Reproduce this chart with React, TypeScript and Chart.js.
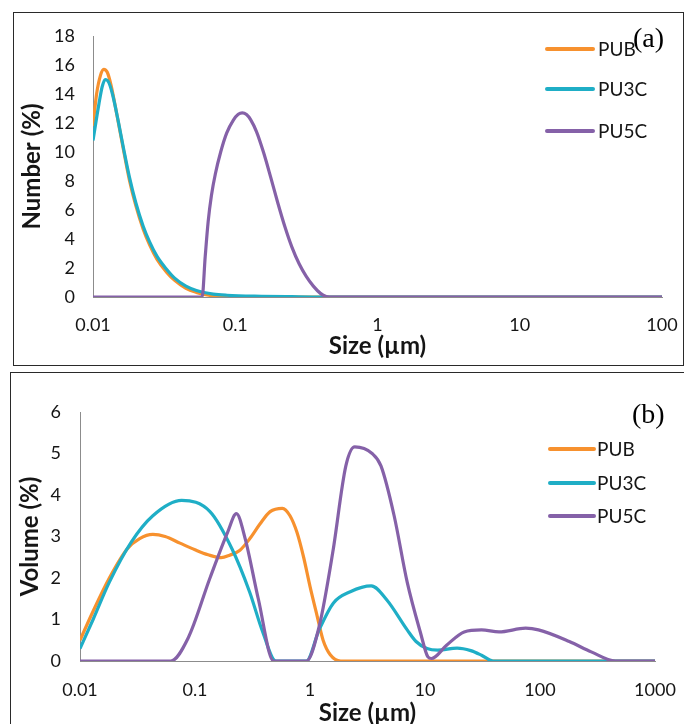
import React, { useEffect, useRef } from "react";
import { Chart, registerables } from "chart.js";

Chart.register(...registerables);

// ---------- Panel (a): Number (%) ----------
const numXTicks = [0.01, 0.1, 1, 10, 100];
const numXTickLabels = ["0.01", "0.1", "1", "10", "100"];

const numPUBSize = [0.01, 0.0106, 0.0113, 0.0119, 0.0126, 0.0134, 0.0147, 0.0162, 0.018, 0.02, 0.0225, 0.025, 0.0282, 0.033, 0.0375, 0.045, 0.0533, 0.065, 0.08, 0.09, 1, 10, 100];
const numPUBVal = [11.8, 14.0, 15.3, 15.7, 15.5, 14.6, 12.6, 10.4, 8.1, 6.3, 4.7, 3.6, 2.6, 1.7, 1.15, 0.6, 0.32, 0.12, 0.03, 0, 0, 0, 0];

const numPU3CSize = [0.01, 0.011, 0.0116, 0.0122, 0.0129, 0.0137, 0.015, 0.0165, 0.018, 0.02, 0.0225, 0.025, 0.0282, 0.033, 0.0375, 0.045, 0.0533, 0.07, 0.0875, 0.153, 0.25, 0.41, 1, 10, 100];
const numPU3CVal = [10.8, 13.3, 14.5, 15.0, 14.8, 14.0, 12.2, 10.1, 8.3, 6.5, 4.9, 3.8, 2.8, 1.9, 1.3, 0.75, 0.45, 0.2, 0.12, 0.05, 0.02, 0, 0, 0, 0];

const numPU5CSize = [0.01, 0.0585, 0.0615, 0.0645, 0.068, 0.0725, 0.079, 0.087, 0.097, 0.105, 0.112, 0.12, 0.1285, 0.141, 0.158, 0.1774, 0.199, 0.2234, 0.2506, 0.2812, 0.3155, 0.354, 0.397, 0.4355, 0.46, 1, 10, 100];
const numPU5CVal = [0, 0, 2.8, 5.2, 7.0, 8.5, 10.0, 11.3, 12.2, 12.6, 12.7, 12.58, 12.22, 11.41, 9.98, 8.27, 6.5, 4.84, 3.42, 2.29, 1.42, 0.75, 0.25, 0.03, 0, 0, 0, 0];

// ---------- Panel (b): Volume (%) ----------
const volXTicks = [0.01, 0.1, 1, 10, 100, 1000];
const volXTickLabels = ["0.01", "0.1", "1", "10", "100", "1000"];

const volPUBSize = [0.01, 0.013, 0.018, 0.0257, 0.033, 0.043, 0.055, 0.074, 0.1, 0.13, 0.169, 0.2, 0.246, 0.3, 0.367, 0.45, 0.575, 0.67, 0.77, 0.88, 1.0, 1.15, 1.3, 1.5, 1.85, 10, 100, 1000];
const volPUBVal = [0.5, 1.2, 2.0, 2.7, 2.95, 3.05, 3.0, 2.84, 2.68, 2.56, 2.49, 2.55, 2.67, 2.95, 3.3, 3.6, 3.68, 3.5, 3.1, 2.5, 1.8, 1.1, 0.5, 0.15, 0, 0, 0, 0];

const volPU3CSize = [0.01, 0.013, 0.018, 0.028, 0.043, 0.0766, 0.135, 0.21, 0.298, 0.388, 0.505, 0.93, 1.2, 1.6, 2.24, 3.41, 4.66, 7.0, 8.36, 10.4, 12.9, 19, 25, 31, 39, 100, 1000];
const volPU3CVal = [0.3, 1.0, 1.9, 2.87, 3.5, 3.87, 3.6, 2.7, 1.67, 0.7, 0, 0, 0.75, 1.4, 1.67, 1.81, 1.47, 0.75, 0.47, 0.3, 0.26, 0.31, 0.25, 0.14, 0, 0, 0];

const volPU5CSize = [0.01, 0.0615, 0.087, 0.135, 0.192, 0.229, 0.273, 0.355, 0.483, 0.93, 1.21, 1.58, 2.05, 2.45, 3.47, 4.14, 5.39, 7.0, 9.1, 10.6, 11.4, 15.4, 21.9, 31, 44, 75, 97, 180, 279, 452, 1000];
const volPU5CVal = [0, 0, 0.55, 2.0, 3.1, 3.55, 2.95, 1.5, 0, 0, 0.87, 2.63, 4.7, 5.16, 5.0, 4.7, 3.5, 1.9, 0.7, 0.1, 0.06, 0.38, 0.7, 0.75, 0.7, 0.79, 0.75, 0.47, 0.22, 0, 0];

const seriesNames = ["PUB", "PU3C", "PU5C"];
const seriesColors = ["#F7912E", "#1FAEC6", "#8561A8"];

const pts = (xs: number[], ys: number[]) => xs.map((x, i) => ({ x, y: ys[i] }));

const TICK_FONT = { family: "Lato", size: 18 };
const TITLE_FONT = { family: "Lato", size: 24, weight: "bold" as const };
const TEXT_COLOR = "#151515";

type OverlayCfg = {
  lineX1: number;
  lineX2: number;
  textX: number;
  ys: number[];
  tag: string;
  tagX: number;
  tagY: number;
};

function makeOverlay(cfg: OverlayCfg) {
  return {
    id: "panelOverlay",
    afterDraw(chart: any) {
      const ctx = chart.ctx;
      ctx.save();
      chart.data.datasets.forEach((ds: any, i: number) => {
        const y = cfg.ys[i];
        ctx.strokeStyle = ds.borderColor;
        ctx.lineWidth = 4;
        ctx.lineCap = "round";
        ctx.beginPath();
        ctx.moveTo(cfg.lineX1, y);
        ctx.lineTo(cfg.lineX2, y);
        ctx.stroke();
        ctx.fillStyle = TEXT_COLOR;
        ctx.font = "19px Lato";
        ctx.textAlign = "left";
        ctx.textBaseline = "middle";
        ctx.fillText(ds.label, cfg.textX, y + 1);
      });
      ctx.fillStyle = "#000";
      ctx.font = "28px 'Liberation Serif'";
      ctx.textAlign = "left";
      ctx.textBaseline = "middle";
      ctx.fillText(cfg.tag, cfg.tagX, cfg.tagY);
      ctx.restore();
    },
  };
}

type PanelProps = {
  width: number;
  height: number;
  sizes: number[][];
  values: number[][];
  xTicks: number[];
  xTickLabels: string[];
  xMax: number;
  yMax: number;
  yStep: number;
  yTitle: string;
  pad: { left: number; top: number; right: number; bottom: number };
  yWidth: number;
  xHeight: number;
  yTickPad: number;
  xTickPad: number;
  yTitlePad: number;
  xTitlePad: number;
  overlay: OverlayCfg;
};

function Panel(p: PanelProps) {
  const ref = useRef<HTMLCanvasElement | null>(null);
  useEffect(() => {
    if (!ref.current) return;
    const chart = new Chart(ref.current, {
      type: "line",
      data: {
        datasets: seriesNames.map((name, i) => ({
          label: name,
          data: pts(p.sizes[i], p.values[i]),
          borderColor: seriesColors[i],
          backgroundColor: seriesColors[i],
          borderWidth: 3.2,
          pointRadius: 0,
          fill: false,
          cubicInterpolationMode: "monotone" as const,
          order: 3 - i,
        })),
      },
      options: {
        responsive: false,
        animation: false,
        events: [],
        layout: { padding: p.pad },
        plugins: {
          legend: { display: false },
          tooltip: { enabled: false },
          title: { display: false },
        },
        scales: {
          x: {
            type: "logarithmic",
            min: 0.01,
            max: p.xMax,
            grid: { display: false, drawTicks: false },
            border: { display: true, color: "#8c8c8c", width: 1 },
            afterBuildTicks: (axis: any) => {
              axis.ticks = p.xTicks.map((v) => ({ value: v }));
            },
            afterFit: (axis: any) => {
              axis.height = p.xHeight;
              axis.paddingLeft = 0;
              axis.paddingRight = 0;
            },
            ticks: {
              autoSkip: false,
              maxRotation: 0,
              padding: p.xTickPad,
              font: TICK_FONT,
              color: TEXT_COLOR,
              callback: (_v: any, i: number) => p.xTickLabels[i],
            },
            title: {
              display: true,
              text: "Size (µm)",
              font: TITLE_FONT,
              color: TEXT_COLOR,
              padding: { top: 0, bottom: p.xTitlePad },
            },
          },
          y: {
            type: "linear",
            min: 0,
            max: p.yMax,
            grid: { display: false, drawTicks: false },
            border: { display: true, color: "#8c8c8c", width: 1 },
            afterFit: (axis: any) => {
              axis.width = p.yWidth;
              axis.paddingTop = 0;
              axis.paddingBottom = 0;
            },
            ticks: {
              stepSize: p.yStep,
              padding: p.yTickPad,
              font: TICK_FONT,
              color: TEXT_COLOR,
            },
            title: {
              display: true,
              text: p.yTitle,
              font: TITLE_FONT,
              color: TEXT_COLOR,
              padding: { top: p.yTitlePad, bottom: 0 },
            },
          },
        },
      },
      plugins: [makeOverlay(p.overlay)],
    });
    return () => chart.destroy();
  }, []);
  return <canvas ref={ref} width={p.width} height={p.height} style={{ display: "block", width: p.width, height: p.height }} />;
}

export default function App() {
  return (
    <div style={{ position: "absolute", left: 0, top: 0, width: 684, height: 724, overflow: "hidden", background: "#fff" }}>
      <div style={{ position: "absolute", left: 13, top: 12, width: 671, height: 354, boxSizing: "border-box", border: "1px solid #2a2a2a" }} />
      <div style={{ position: "absolute", left: 10, top: 372, width: 700, height: 400, boxSizing: "border-box", border: "1px solid #2a2a2a" }} />
      <div style={{ position: "absolute", left: 0, top: 0 }}>
        <Panel
          width={684}
          height={370}
          sizes={[numPUBSize, numPU3CSize, numPU5CSize]}
          values={[numPUBVal, numPU3CVal, numPU5CVal]}
          xTicks={numXTicks}
          xTickLabels={numXTickLabels}
          xMax={100}
          yMax={18}
          yStep={2}
          yTitle="Number (%)"
          pad={{ left: 0, top: 36, right: 22, bottom: 0 }}
          yWidth={93}
          xHeight={73}
          yTickPad={18}
          xTickPad={17}
          yTitlePad={18}
          xTitlePad={9}
          overlay={{ lineX1: 547, lineX2: 593, textX: 598, ys: [49, 89, 131], tag: "(a)", tagX: 633, tagY: 40 }}
        />
      </div>
      <div style={{ position: "absolute", left: 0, top: 370 }}>
        <Panel
          width={684}
          height={370}
          sizes={[volPUBSize, volPU3CSize, volPU5CSize]}
          values={[volPUBVal, volPU3CVal, volPU5CVal]}
          xTicks={volXTicks}
          xTickLabels={volXTickLabels}
          xMax={1000}
          yMax={6}
          yStep={1}
          yTitle="Volume (%)"
          pad={{ left: 0, top: 42, right: 29, bottom: 0 }}
          yWidth={80}
          xHeight={79}
          yTickPad={19}
          xTickPad={18}
          yTitlePad={16}
          xTitlePad={12}
          overlay={{ lineX1: 550, lineX2: 594, textX: 597, ys: [79, 113, 146], tag: "(b)", tagX: 632, tagY: 46 }}
        />
      </div>
    </div>
  );
}
